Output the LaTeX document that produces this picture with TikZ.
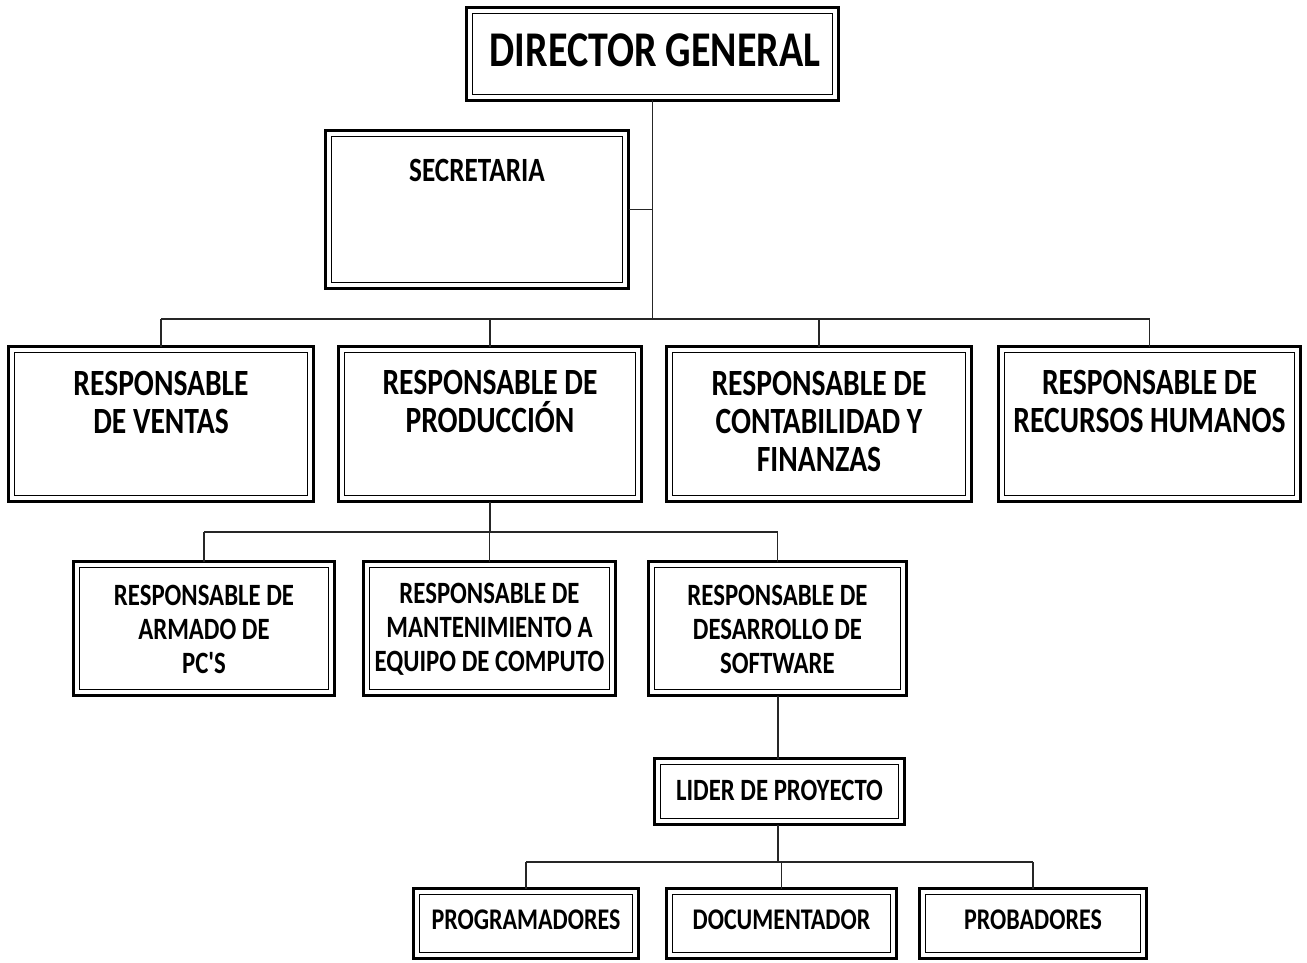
\documentclass[tikz,border=0pt]{standalone}
\usepackage{fontspec}
\newfontfamily\cfont{Carlito}[FakeStretch=0.8]
\begin{document}
\begin{tikzpicture}[x=1pt,y=-1pt,
  box/.style={draw=black, line width=3.2pt, outer sep=0pt, inner sep=0pt},
  inner/.style={draw=black, line width=1.3pt},
  conn/.style={draw=black!85, line width=1.3pt},
  tbig/.style={font=\cfont\bfseries\fontsize{50}{52}\selectfont, align=center, inner sep=0pt},
  tmid/.style={font=\cfont\bfseries\fontsize{37}{38}\selectfont, align=center, inner sep=0pt},
  tsec/.style={font=\cfont\bfseries\fontsize{34}{36}\selectfont, align=center, inner sep=0pt},
  tsm/.style={font=\cfont\bfseries\fontsize{31}{34}\selectfont, align=center, inner sep=0pt},
  tlow/.style={font=\cfont\bfseries\fontsize{30}{32}\selectfont, align=center, inner sep=0pt}]
\fill[white] (0,0) rectangle (1307,963);
\useasboundingbox (0,0) rectangle (1307,963);
% boxes
\node[box, minimum width=372pt, minimum height=93pt] (dg) at (652.5,54) {};
\node[box, minimum width=303pt, minimum height=158pt] (sec) at (477,209.5) {};
\node[box, minimum width=305pt, minimum height=155pt] (ven) at (161,424) {};
\node[box, minimum width=303pt, minimum height=155pt] (pro) at (490,424) {};
\node[box, minimum width=305pt, minimum height=155pt] (con) at (819,424) {};
\node[box, minimum width=302pt, minimum height=155pt] (rrh) at (1149.5,424) {};
\node[box, minimum width=261pt, minimum height=134pt] (arm) at (204,628.5) {};
\node[box, minimum width=252pt, minimum height=134pt] (man) at (489.5,628.5) {};
\node[box, minimum width=258pt, minimum height=134pt] (sof) at (777.5,628.5) {};
\node[box, minimum width=250pt, minimum height=66pt] (lid) at (779.5,791.5) {};
\node[box, minimum width=225pt, minimum height=70pt] (prg) at (526,923.5) {};
\node[box, minimum width=230pt, minimum height=70pt] (doc) at (781.5,923.5) {};
\node[box, minimum width=227pt, minimum height=70pt] (prb) at (1033,923.5) {};
\foreach \n in {dg,sec,ven,pro,con,rrh,arm,man,sof,lid,prg,doc,prb}
  \draw[inner] ([shift={(6,6)}]\n.north west) rectangle ([shift={(-6,-6)}]\n.south east);
% texts
\node[tbig] (dg-t) at (655,50) {DIRECTOR GENERAL};
\node[tsec] (sec-t) at (477,170) {SECRETARIA};
\node[tmid] (ven-t) at (161,402) {RESPONSABLE\\DE VENTAS};
\node[tmid] (pro-t) at (490,402) {RESPONSABLE DE\\PRODUCCIÓN};
\node[tmid] (con-t) at (819,421) {RESPONSABLE DE\\CONTABILIDAD Y\\FINANZAS};
\node[tmid] (rrh-t) at (1149.5,402) {RESPONSABLE DE\\RECURSOS HUMANOS};
\node[tsm] (arm-t) at (204,629) {RESPONSABLE DE\\ARMADO DE\\PC'S};
\node[tsm] (man-t) at (489.5,629) {RESPONSABLE DE\\MANTENIMIENTO A\\EQUIPO DE COMPUTO};
\node[tsm] (sof-t) at (777.5,629) {RESPONSABLE DE\\DESARROLLO DE\\SOFTWARE};
\node[tsm] (lid-t) at (779.5,790) {LIDER DE PROYECTO};
\node[tlow] (prg-t) at (526,920) {PROGRAMADORES};
\node[tlow] (doc-t) at (781.5,920) {DOCUMENTADOR};
\node[tlow] (prb-t) at (1033,920) {PROBADORES};
% connectors
\coordinate (bus1) at (652.5,319);
\coordinate (bus2) at (490,532);
\coordinate (bus3) at (778,862);
\draw[conn] (dg.south) -- (bus1);
\draw[conn] (sec.east) -- (sec.east -| bus1);
\draw[conn] (ven.north |- bus1) -- (rrh.north |- bus1);
\foreach \n in {ven,pro,con,rrh} \draw[conn] (\n.north |- bus1) -- (\n.north);
\draw[conn] (pro.south) -- (bus2);
\draw[conn] (arm.north |- bus2) -- (sof.north |- bus2);
\foreach \n in {arm,man,sof} \draw[conn] (\n.north |- bus2) -- (\n.north);
\draw[conn] (sof.south -| bus3) -- (lid.north -| bus3);
\draw[conn] (lid.south -| bus3) -- (bus3);
\draw[conn] (prg.north |- bus3) -- (prb.north |- bus3);
\foreach \n in {prg,doc,prb} \draw[conn] (\n.north |- bus3) -- (\n.north);
\end{tikzpicture}
\end{document}
